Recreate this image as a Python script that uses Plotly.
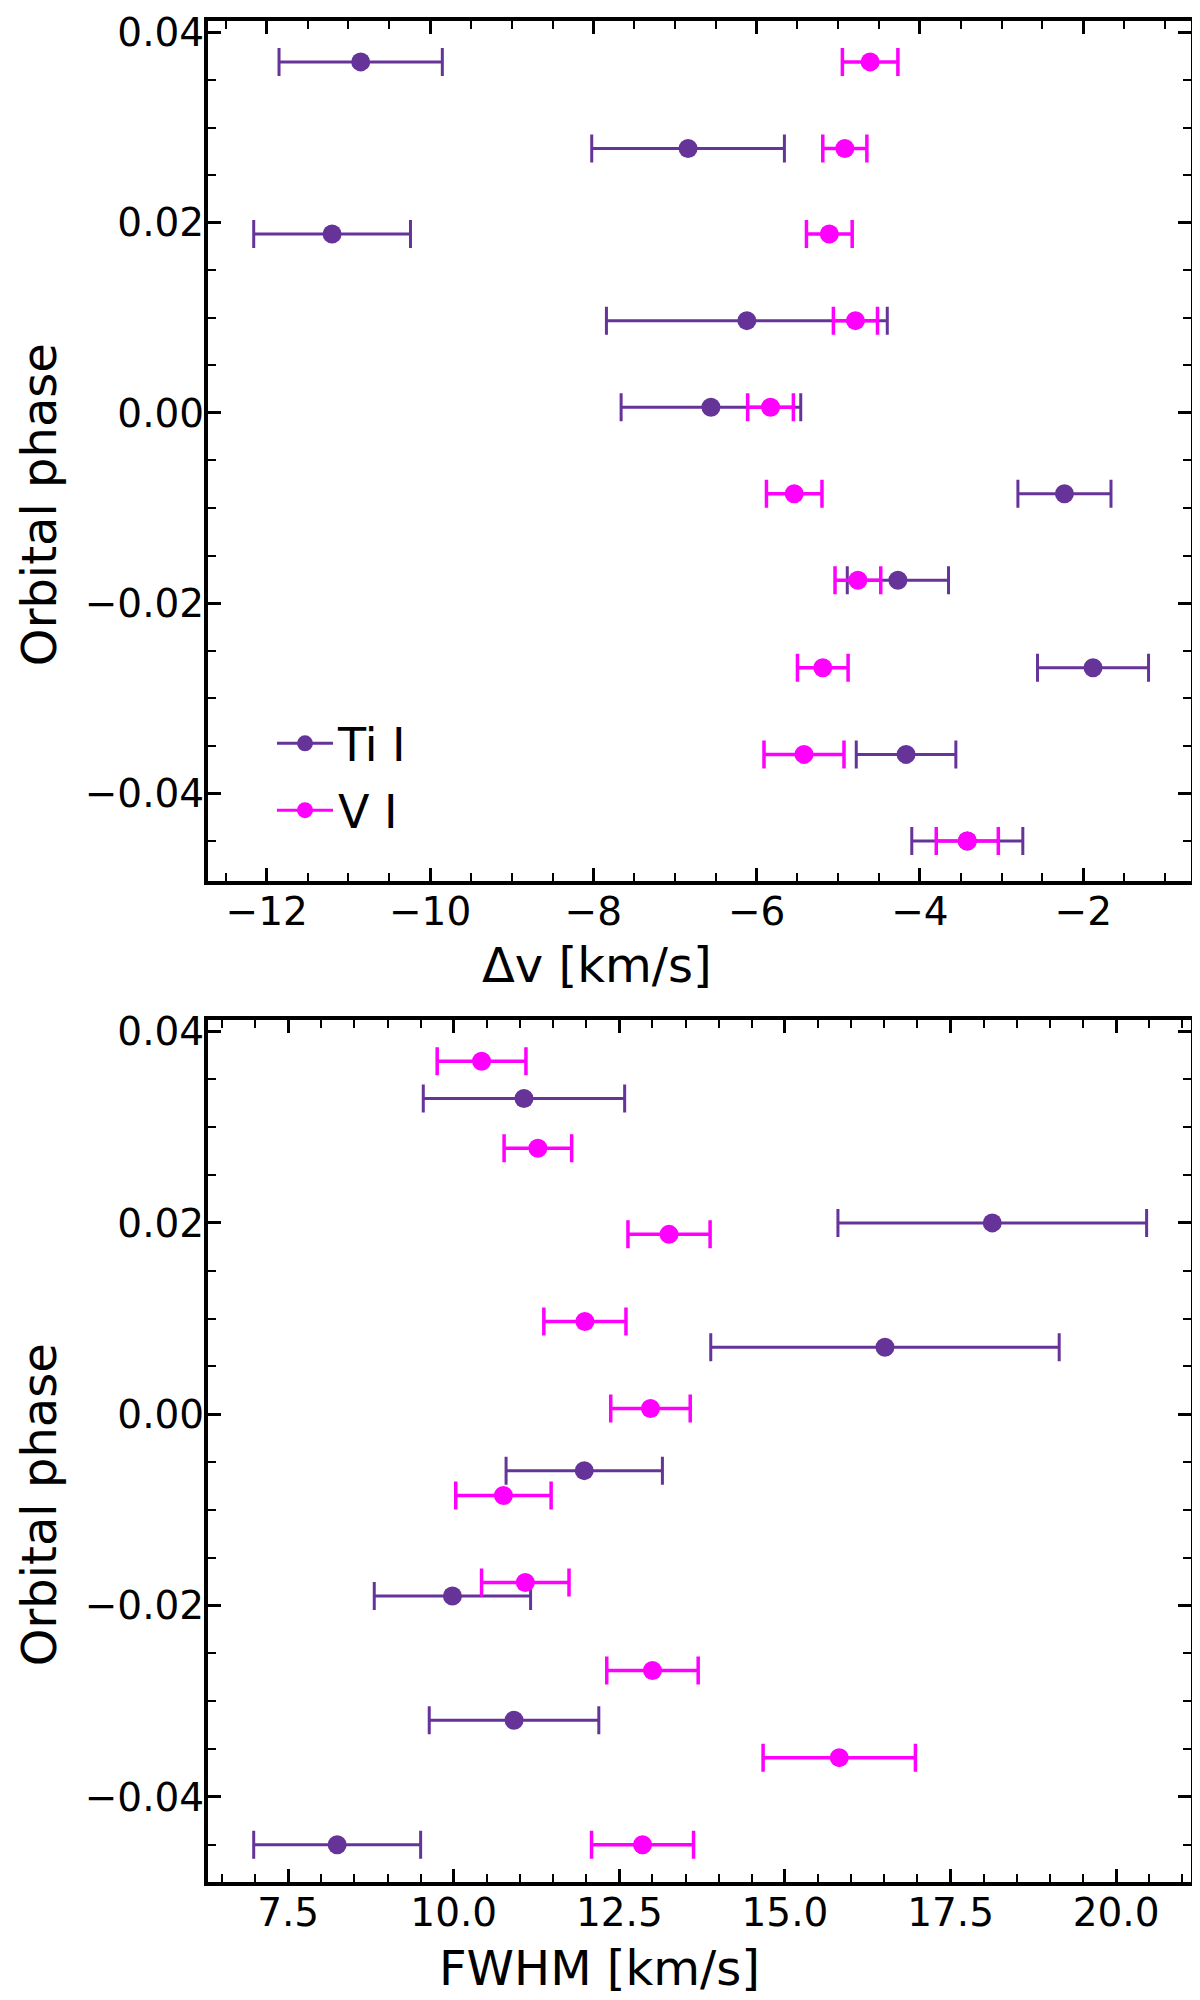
import plotly.graph_objs as go
from plotly.subplots import make_subplots

# orbital phases (shared by the top panel and by V I in the bottom panel)
phase = [0.0369, 0.0278, 0.0188, 0.0097, 0.0006, -0.0085, -0.0176, -0.0268, -0.0359, -0.0450]
# Ti I FWHM was measured on a coarser phase grid
phase_ti_fwhm = [0.0330, 0.0200, 0.0070, -0.0059, -0.0190, -0.0320, -0.0450]

# top panel: velocity shift
dv_ti = [-10.85, -6.84, -11.20, -6.12, -6.56, -2.23, -4.27, -1.88, -4.17, -3.42]
dv_ti_err = [1.00, 1.18, 0.96, 1.72, 1.10, 0.57, 0.62, 0.68, 0.61, 0.68]
dv_v = [-4.61, -4.92, -5.11, -4.79, -5.83, -5.54, -4.76, -5.19, -5.42, -3.42]
dv_v_err = [0.34, 0.27, 0.28, 0.27, 0.28, 0.34, 0.28, 0.31, 0.49, 0.38]

# bottom panel: FWHM
fwhm_ti = [11.06, 18.13, 16.51, 11.97, 9.98, 10.91, 8.24]
fwhm_ti_err = [1.52, 2.33, 2.63, 1.18, 1.18, 1.28, 1.26]
fwhm_v = [10.42, 11.27, 13.25, 11.98, 12.97, 10.75, 11.08, 13.00, 15.82, 12.85]
fwhm_v_err = [0.67, 0.51, 0.62, 0.62, 0.60, 0.72, 0.66, 0.69, 1.15, 0.77]

y_ticks = [-0.04, -0.02, 0.0, 0.02, 0.04]
y_ticklabels = ['\u22120.04', '\u22120.02', '0.00', '0.02', '0.04']
dv_ticks = [-12, -10, -8, -6, -4, -2]
dv_ticklabels = ['\u221212', '\u221210', '\u22128', '\u22126', '\u22124', '\u22122']
fwhm_ticks = [7.5, 10.0, 12.5, 15.0, 17.5, 20.0]
fwhm_ticklabels = ['7.5', '10.0', '12.5', '15.0', '17.5', '20.0']

TI_COLOR = '#663399'
V_COLOR = '#ff00ff'
FONT = 'DejaVu Sans'

# the page body has an 8px margin, so the figure is a bit smaller than the window
OFF = 8
W, H = 1200 - OFF, 2000 - OFF
L, R, T, B = 208 - OFF, 9, 10 - OFF, 118


def px_to_paper(px, py):
    # px, py are positions in the 1200x2000 window
    px, py = px - OFF, py - OFF
    return (px - L) / (W - L - R), 1 - (py - T) / (H - T - B)


top_lo = px_to_paper(0, 875)[1]
bot_hi = px_to_paper(0, 1015)[1]

fig = make_subplots(rows=2, cols=1)


def add_points(x, xerr, y, color, thick, row):
    fig.add_trace(go.Scatter(
        x=x, y=y, mode='markers',
        marker=dict(color=color, size=19),
        error_x=dict(type='data', array=xerr, color=color, thickness=thick, width=14),
        showlegend=False,
    ), row=row, col=1)


add_points(dv_ti, dv_ti_err, phase, TI_COLOR, 3, 1)
add_points(dv_v, dv_v_err, phase, V_COLOR, 3.5, 1)
add_points(fwhm_ti, fwhm_ti_err, phase_ti_fwhm, TI_COLOR, 3, 2)
add_points(fwhm_v, fwhm_v_err, phase, V_COLOR, 3.5, 2)

# legend entries
for name, color in [('Ti I', TI_COLOR), ('V I', V_COLOR)]:
    fig.add_trace(go.Scatter(
        x=[None], y=[None], mode='lines+markers', name=name, legendgroup=name,
        marker=dict(color=color, size=19), line=dict(color=color, width=3),
    ), row=1, col=1)

axis_common = dict(
    showgrid=False, zeroline=False,
    showline=True, linewidth=4, linecolor='black', mirror='allticks',
    ticks='inside', ticklen=13, tickwidth=3, tickcolor='black',
    tickfont=dict(family=FONT, size=39, color='black'),
    tickmode='array',
)

fig.update_xaxes(axis_common, ticklabelstandoff=-7)
fig.update_yaxes(axis_common, ticklabelstandoff=-8)

fig.update_xaxes(range=[-12.72, -0.68], tickvals=dv_ticks, ticktext=dv_ticklabels,
                 minor=dict(tickmode='linear', tick0=0, dtick=0.5, ticks='inside',
                            ticklen=8, tickwidth=2, tickcolor='black'),
                 row=1, col=1)
fig.update_xaxes(range=[6.29, 21.13], tickvals=fwhm_ticks, ticktext=fwhm_ticklabels,
                 minor=dict(tickmode='linear', tick0=0, dtick=0.5, ticks='inside',
                            ticklen=8, tickwidth=2, tickcolor='black'),
                 row=2, col=1)
fig.update_yaxes(range=[-0.0492, 0.0412], tickvals=y_ticks, ticktext=y_ticklabels,
                 minor=dict(tickmode='linear', tick0=0, dtick=0.005, ticks='inside',
                            ticklen=8, tickwidth=2, tickcolor='black'),
                 row=1, col=1)
fig.update_yaxes(range=[-0.0489, 0.0412], tickvals=y_ticks, ticktext=y_ticklabels,
                 minor=dict(tickmode='linear', tick0=0, dtick=0.005, ticks='inside',
                            ticklen=8, tickwidth=2, tickcolor='black'),
                 row=2, col=1)

fig.update_layout(
    width=W, height=H,
    margin=dict(l=L, r=R, t=T, b=B, pad=0),
    paper_bgcolor='white', plot_bgcolor='white',
    font=dict(family=FONT, color='black'),
    xaxis=dict(domain=[0, 1], anchor='y'),
    yaxis=dict(domain=[top_lo, 1], anchor='x'),
    xaxis2=dict(domain=[0, 1], anchor='y2'),
    yaxis2=dict(domain=[0, bot_hi], anchor='x2'),
    legend=dict(
        x=px_to_paper(272, 0)[0], y=px_to_paper(0, 700)[1],
        xanchor='left', yanchor='top',
        bgcolor='rgba(0,0,0,0)', borderwidth=0,
        font=dict(family=FONT, size=46, color='black'),
        itemwidth=56, tracegroupgap=4,
    ),
)

# axis labels (window positions)
labels = [
    ('Orbital phase', 39, 497, -90),
    ('Orbital phase', 39, 1503, -90),
    ('\u0394v [km/s]', 597, 960, 0),
    ('FWHM [km/s]', 599, 1969, 0),
]
for text, px, py, angle in labels:
    ax, ay = px_to_paper(px, py)
    fig.add_annotation(text=text, x=ax, y=ay, xref='paper', yref='paper',
                       xanchor='center', yanchor='middle', showarrow=False,
                       borderpad=0, textangle=angle,
                       font=dict(family=FONT, size=48, color='black'))

fig.write_html("out.html")
